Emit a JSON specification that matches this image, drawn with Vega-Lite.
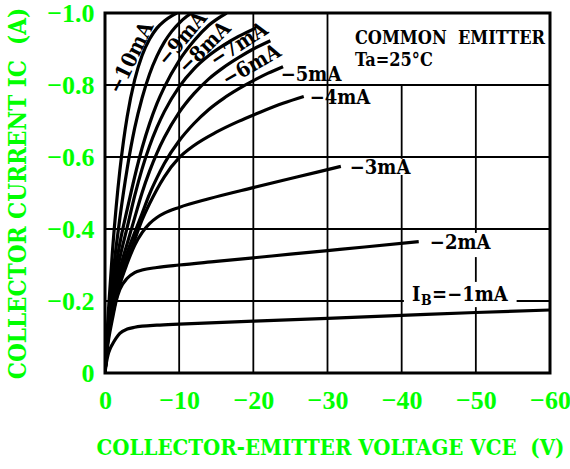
{
  "$schema": "https://vega.github.io/schema/vega-lite/v6.json",
  "width": 445,
  "height": 360,
  "autosize": "none",
  "padding": {"left": 105, "top": 13, "right": 20, "bottom": 96},
  "background": "white",
  "config": {"view": {"stroke": "black", "strokeWidth": 3}},
  "datasets": {
    "grid": [
      {"V": -10, "I": 0, "V2": -10, "I2": -1},
      {"V": -20, "I": 0, "V2": -20, "I2": -1},
      {"V": -30, "I": 0, "V2": -30, "I2": -1},
      {"V": -40, "I": 0, "V2": -40, "I2": -0.55},
      {"V": -40, "I": -0.595, "V2": -40, "I2": -0.8},
      {"V": -50, "I": 0, "V2": -50, "I2": -0.183},
      {"V": -50, "I": -0.253, "V2": -50, "I2": -0.322},
      {"V": -50, "I": -0.389, "V2": -50, "I2": -0.8},
      {"V": 0, "I": -0.2, "V2": -40.3, "I2": -0.2},
      {"V": -55.5, "I": -0.2, "V2": -60, "I2": -0.2},
      {"V": 0, "I": -0.4, "V2": -60, "I2": -0.4},
      {"V": 0, "I": -0.6, "V2": -60, "I2": -0.6},
      {"V": 0, "I": -0.8, "V2": -60, "I2": -0.8}
    ],
    "curves": [
      {"c": "10", "V": 0, "I": 0}, {"c": "10", "V": -0.25, "I": -0.1}, {"c": "10", "V": -0.5, "I": -0.185}, {"c": "10", "V": -1, "I": -0.337}, {"c": "10", "V": -1.5, "I": -0.46}, {"c": "10", "V": -2, "I": -0.562}, {"c": "10", "V": -2.5, "I": -0.645}, {"c": "10", "V": -3, "I": -0.713}, {"c": "10", "V": -4, "I": -0.814}, {"c": "10", "V": -5, "I": -0.882}, {"c": "10", "V": -6, "I": -0.927}, {"c": "10", "V": -7, "I": -0.958}, {"c": "10", "V": -8, "I": -0.978}, {"c": "10", "V": -9, "I": -0.992}, {"c": "10", "V": -9.7, "I": -1.0},
      {"c": "9", "V": 0, "I": 0}, {"c": "9", "V": -0.25, "I": -0.085}, {"c": "9", "V": -0.5, "I": -0.15}, {"c": "9", "V": -1, "I": -0.26}, {"c": "9", "V": -1.5, "I": -0.35}, {"c": "9", "V": -2, "I": -0.43}, {"c": "9", "V": -3, "I": -0.569}, {"c": "9", "V": -4, "I": -0.68}, {"c": "9", "V": -5, "I": -0.764}, {"c": "9", "V": -6, "I": -0.83}, {"c": "9", "V": -7, "I": -0.88}, {"c": "9", "V": -8, "I": -0.919}, {"c": "9", "V": -9, "I": -0.949}, {"c": "9", "V": -10, "I": -0.972}, {"c": "9", "V": -11, "I": -0.99}, {"c": "9", "V": -11.7, "I": -1.0},
      {"c": "8", "V": 0, "I": 0}, {"c": "8", "V": -0.25, "I": -0.08}, {"c": "8", "V": -0.5, "I": -0.14}, {"c": "8", "V": -1, "I": -0.23}, {"c": "8", "V": -1.5, "I": -0.3}, {"c": "8", "V": -2, "I": -0.36}, {"c": "8", "V": -3, "I": -0.455}, {"c": "8", "V": -4, "I": -0.545}, {"c": "8", "V": -5, "I": -0.625}, {"c": "8", "V": -6, "I": -0.692}, {"c": "8", "V": -7, "I": -0.748}, {"c": "8", "V": -8, "I": -0.794}, {"c": "8", "V": -10, "I": -0.868}, {"c": "8", "V": -12, "I": -0.923}, {"c": "8", "V": -14, "I": -0.966}, {"c": "8", "V": -16.4, "I": -1.0},
      {"c": "7", "V": 0, "I": 0}, {"c": "7", "V": -0.25, "I": -0.075}, {"c": "7", "V": -0.5, "I": -0.13}, {"c": "7", "V": -1, "I": -0.21}, {"c": "7", "V": -1.5, "I": -0.27}, {"c": "7", "V": -2, "I": -0.32}, {"c": "7", "V": -3, "I": -0.405}, {"c": "7", "V": -4, "I": -0.492}, {"c": "7", "V": -5, "I": -0.567}, {"c": "7", "V": -6, "I": -0.63}, {"c": "7", "V": -7, "I": -0.682}, {"c": "7", "V": -8, "I": -0.726}, {"c": "7", "V": -10, "I": -0.795}, {"c": "7", "V": -12, "I": -0.845}, {"c": "7", "V": -14, "I": -0.882}, {"c": "7", "V": -16, "I": -0.911}, {"c": "7", "V": -18, "I": -0.935}, {"c": "7", "V": -20.3, "I": -0.958},
      {"c": "6", "V": 0, "I": 0}, {"c": "6", "V": -0.25, "I": -0.072}, {"c": "6", "V": -0.5, "I": -0.125}, {"c": "6", "V": -1, "I": -0.195}, {"c": "6", "V": -1.5, "I": -0.25}, {"c": "6", "V": -2, "I": -0.29}, {"c": "6", "V": -3, "I": -0.36}, {"c": "6", "V": -4, "I": -0.431}, {"c": "6", "V": -5, "I": -0.501}, {"c": "6", "V": -6, "I": -0.56}, {"c": "6", "V": -7, "I": -0.611}, {"c": "6", "V": -8, "I": -0.654}, {"c": "6", "V": -10, "I": -0.724}, {"c": "6", "V": -12, "I": -0.776}, {"c": "6", "V": -14, "I": -0.817}, {"c": "6", "V": -16, "I": -0.849}, {"c": "6", "V": -18, "I": -0.876}, {"c": "6", "V": -20, "I": -0.9}, {"c": "6", "V": -22.3, "I": -0.923},
      {"c": "5", "V": 0, "I": 0}, {"c": "5", "V": -0.25, "I": -0.07}, {"c": "5", "V": -0.5, "I": -0.12}, {"c": "5", "V": -1, "I": -0.18}, {"c": "5", "V": -1.5, "I": -0.23}, {"c": "5", "V": -2, "I": -0.27}, {"c": "5", "V": -3, "I": -0.335}, {"c": "5", "V": -4, "I": -0.39}, {"c": "5", "V": -5, "I": -0.443}, {"c": "5", "V": -6, "I": -0.497}, {"c": "5", "V": -7, "I": -0.542}, {"c": "5", "V": -8, "I": -0.582}, {"c": "5", "V": -10, "I": -0.645}, {"c": "5", "V": -12, "I": -0.693}, {"c": "5", "V": -14, "I": -0.732}, {"c": "5", "V": -16, "I": -0.763}, {"c": "5", "V": -18, "I": -0.789}, {"c": "5", "V": -20, "I": -0.812}, {"c": "5", "V": -22, "I": -0.833}, {"c": "5", "V": -24, "I": -0.851},
      {"c": "4", "V": 0, "I": 0}, {"c": "4", "V": -0.25, "I": -0.067}, {"c": "4", "V": -0.5, "I": -0.115}, {"c": "4", "V": -1, "I": -0.17}, {"c": "4", "V": -1.5, "I": -0.215}, {"c": "4", "V": -2, "I": -0.255}, {"c": "4", "V": -3, "I": -0.315}, {"c": "4", "V": -4, "I": -0.37}, {"c": "4", "V": -5, "I": -0.425}, {"c": "4", "V": -6, "I": -0.47}, {"c": "4", "V": -7, "I": -0.51}, {"c": "4", "V": -8, "I": -0.545}, {"c": "4", "V": -10, "I": -0.598}, {"c": "4", "V": -12, "I": -0.632}, {"c": "4", "V": -15, "I": -0.669}, {"c": "4", "V": -18, "I": -0.699}, {"c": "4", "V": -21, "I": -0.725}, {"c": "4", "V": -24, "I": -0.749}, {"c": "4", "V": -26.8, "I": -0.768},
      {"c": "3", "V": 0, "I": 0}, {"c": "3", "V": -0.25, "I": -0.063}, {"c": "3", "V": -0.5, "I": -0.11}, {"c": "3", "V": -1, "I": -0.16}, {"c": "3", "V": -1.5, "I": -0.205}, {"c": "3", "V": -2, "I": -0.245}, {"c": "3", "V": -3, "I": -0.305}, {"c": "3", "V": -4, "I": -0.355}, {"c": "3", "V": -5, "I": -0.39}, {"c": "3", "V": -6, "I": -0.415}, {"c": "3", "V": -7, "I": -0.432}, {"c": "3", "V": -8, "I": -0.444}, {"c": "3", "V": -10, "I": -0.46}, {"c": "3", "V": -14, "I": -0.484}, {"c": "3", "V": -20, "I": -0.515}, {"c": "3", "V": -26, "I": -0.545}, {"c": "3", "V": -31.8, "I": -0.574},
      {"c": "2", "V": 0, "I": 0}, {"c": "2", "V": -0.25, "I": -0.058}, {"c": "2", "V": -0.5, "I": -0.095}, {"c": "2", "V": -1, "I": -0.15}, {"c": "2", "V": -1.5, "I": -0.2}, {"c": "2", "V": -2, "I": -0.232}, {"c": "2", "V": -3, "I": -0.263}, {"c": "2", "V": -4, "I": -0.279}, {"c": "2", "V": -5, "I": -0.286}, {"c": "2", "V": -7, "I": -0.293}, {"c": "2", "V": -10, "I": -0.3}, {"c": "2", "V": -15, "I": -0.31}, {"c": "2", "V": -20, "I": -0.32}, {"c": "2", "V": -25, "I": -0.33}, {"c": "2", "V": -30, "I": -0.34}, {"c": "2", "V": -35, "I": -0.35}, {"c": "2", "V": -42.3, "I": -0.365},
      {"c": "1", "V": 0, "I": 0}, {"c": "1", "V": -0.2, "I": -0.03}, {"c": "1", "V": -0.4, "I": -0.05}, {"c": "1", "V": -0.7, "I": -0.068}, {"c": "1", "V": -1, "I": -0.08}, {"c": "1", "V": -1.5, "I": -0.097}, {"c": "1", "V": -2, "I": -0.11}, {"c": "1", "V": -3, "I": -0.122}, {"c": "1", "V": -4, "I": -0.127}, {"c": "1", "V": -5, "I": -0.13}, {"c": "1", "V": -7, "I": -0.133}, {"c": "1", "V": -10, "I": -0.136}, {"c": "1", "V": -20, "I": -0.144}, {"c": "1", "V": -30, "I": -0.152}, {"c": "1", "V": -40, "I": -0.16}, {"c": "1", "V": -50, "I": -0.168}, {"c": "1", "V": -60, "I": -0.175}
    ],
    "labels": [
      {"g": "r", "V": -23.7, "I": -0.828, "t": "−5mA"},
      {"g": "r", "V": -27.6, "I": -0.764, "t": "−4mA"},
      {"g": "r", "V": -33.0, "I": -0.57, "t": "−3mA"},
      {"g": "r", "V": -43.8, "I": -0.361, "t": "−2mA"},
      {"g": "r", "V": -41.4, "I": -0.217, "t": "I"},
      {"g": "sub", "V": -42.6, "I": -0.2, "t": "B"},
      {"g": "r", "V": -44.1, "I": -0.217, "t": "=−1mA"},
      {"g": "a64", "V": -3.6, "I": -0.875, "t": "−10mA"},
      {"g": "a50", "V": -10.5, "I": -0.928, "t": "−9mA"},
      {"g": "a45", "V": -13.5, "I": -0.903, "t": "−8mA"},
      {"g": "a33", "V": -18.1, "I": -0.911, "t": "−7mA"},
      {"g": "a30", "V": -19.8, "I": -0.853, "t": "−6mA"},
      {"g": "h", "V": -33.7, "I": -0.913, "t": "COMMON\u00a0\u00a0EMITTER"},
      {"g": "h", "V": -33.7, "I": -0.853, "t": "Ta=25°C"}
    ]
  },
  "encoding": {
    "x": {
      "field": "V", "type": "quantitative",
      "scale": {"domain": [0, -60], "nice": false, "zero": false},
      "axis": {
        "values": [0, -10, -20, -30, -40, -50, -60],
        "labelExpr": "datum.value == 0 ? '0' : format(datum.value, 'd')",
        "grid": false, "ticks": false, "domain": false,
        "labelFont": "Liberation Serif", "labelFontWeight": "bold", "labelFontSize": 26,
        "labelColor": "#00ff00", "labelPadding": 14, "labelFlush": false,
        "title": "COLLECTOR-EMITTER VOLTAGE VCE\u00a0\u00a0(V)",
        "titleFont": "DejaVu Serif Condensed, DejaVu Serif", "titleFontWeight": "bold", "titleFontSize": 22,
        "titleColor": "#00ff00", "titleX": 225, "titleY": 74, "titleBaseline": "middle", "titleAlign": "center", "titleAnchor": null
      }
    },
    "y": {
      "field": "I", "type": "quantitative",
      "scale": {"domain": [0, -1], "nice": false, "zero": false},
      "axis": {
        "values": [0, -0.2, -0.4, -0.6, -0.8, -1],
        "labelExpr": "datum.value == 0 ? '0' : format(datum.value, '.1f')",
        "grid": false, "ticks": false, "domain": false,
        "labelFont": "Liberation Serif", "labelFontWeight": "bold", "labelFontSize": 26,
        "labelColor": "#00ff00", "labelPadding": 11, "labelFlush": false,
        "title": "COLLECTOR CURRENT IC\u00a0\u00a0(A)",
        "titleFont": "DejaVu Serif Condensed, DejaVu Serif", "titleFontWeight": "bold", "titleFontSize": 24,
        "titleColor": "#00ff00", "titleX": -87, "titleY": 180, "titleAngle": -90, "titleBaseline": "middle", "titleAlign": "center", "titleAnchor": null
      }
    }
  },
  "layer": [
    {
      "data": {"name": "grid"},
      "mark": {"type": "rule", "color": "black", "strokeWidth": 1.8},
      "encoding": {"x2": {"field": "V2"}, "y2": {"field": "I2"}}
    },
    {
      "data": {"name": "curves"},
      "mark": {"type": "line", "color": "black", "strokeWidth": 3.2, "interpolate": "monotone", "clip": true},
      "encoding": {
        "detail": {"field": "c", "type": "nominal"},
        "order": {"field": "V", "type": "quantitative", "sort": "descending"}
      }
    },
    {
      "data": {"name": "labels"},
      "transform": [{"filter": "datum.g == 'r'"}],
      "mark": {"type": "text", "align": "left", "baseline": "middle", "font": "DejaVu Serif Condensed, DejaVu Serif", "fontWeight": "bold", "fontSize": 20, "color": "black"},
      "encoding": {"text": {"field": "t"}}
    },
    {
      "data": {"name": "labels"},
      "transform": [{"filter": "datum.g == 'sub'"}],
      "mark": {"type": "text", "align": "left", "baseline": "middle", "font": "DejaVu Serif Condensed, DejaVu Serif", "fontWeight": "bold", "fontSize": 14, "color": "black"},
      "encoding": {"text": {"field": "t"}}
    },
    {
      "data": {"name": "labels"},
      "transform": [{"filter": "datum.g == 'h'"}],
      "mark": {"type": "text", "align": "left", "baseline": "alphabetic", "font": "DejaVu Serif Condensed, DejaVu Serif", "fontWeight": "bold", "fontSize": 18, "color": "black"},
      "encoding": {"text": {"field": "t"}}
    },
    {
      "data": {"name": "labels"},
      "transform": [{"filter": "datum.g == 'a64'"}],
      "mark": {"type": "text", "align": "center", "baseline": "middle", "angle": 296, "font": "DejaVu Serif Condensed, DejaVu Serif", "fontWeight": "bold", "fontSize": 21, "color": "black"},
      "encoding": {"text": {"field": "t"}}
    },
    {
      "data": {"name": "labels"},
      "transform": [{"filter": "datum.g == 'a50'"}],
      "mark": {"type": "text", "align": "center", "baseline": "middle", "angle": 310, "font": "DejaVu Serif Condensed, DejaVu Serif", "fontWeight": "bold", "fontSize": 21, "color": "black"},
      "encoding": {"text": {"field": "t"}}
    },
    {
      "data": {"name": "labels"},
      "transform": [{"filter": "datum.g == 'a45'"}],
      "mark": {"type": "text", "align": "center", "baseline": "middle", "angle": 315, "font": "DejaVu Serif Condensed, DejaVu Serif", "fontWeight": "bold", "fontSize": 21, "color": "black"},
      "encoding": {"text": {"field": "t"}}
    },
    {
      "data": {"name": "labels"},
      "transform": [{"filter": "datum.g == 'a33'"}],
      "mark": {"type": "text", "align": "center", "baseline": "middle", "angle": 327, "font": "DejaVu Serif Condensed, DejaVu Serif", "fontWeight": "bold", "fontSize": 21, "color": "black"},
      "encoding": {"text": {"field": "t"}}
    },
    {
      "data": {"name": "labels"},
      "transform": [{"filter": "datum.g == 'a30'"}],
      "mark": {"type": "text", "align": "center", "baseline": "middle", "angle": 330, "font": "DejaVu Serif Condensed, DejaVu Serif", "fontWeight": "bold", "fontSize": 21, "color": "black"},
      "encoding": {"text": {"field": "t"}}
    }
  ]
}
